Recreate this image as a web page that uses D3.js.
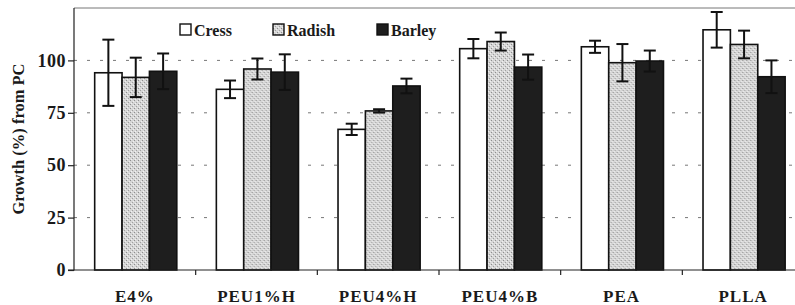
<!DOCTYPE html>
<html>
<head>
<meta charset="utf-8">
<script src="https://cdn.jsdelivr.net/npm/d3@7"></script>
<style>
  body { margin: 0; background: #fff; }
  text { font-family: "Liberation Serif", "DejaVu Serif", serif; font-weight: bold; fill: #1a1a1a; }
</style>
</head>
<body>
<script>
// data
const categories = ["E4%", "PEU1%H", "PEU4%H", "PEU4%B", "PEA", "PLLA"];
const seriesNames = ["Cress", "Radish", "Barley"];
const cressVals = [94.1, 86.2, 67.1, 105.6, 106.5, 114.6];
const radishVals = [91.9, 95.9, 75.9, 109.0, 98.9, 107.6];
const barleyVals = [94.8, 94.4, 87.8, 96.8, 99.7, 92.2];
const cressErr = [15.8, 4.2, 2.7, 4.6, 2.9, 8.5];
const radishErr = [9.4, 5.0, 0.8, 4.3, 8.9, 6.6];
const barleyErr = [8.5, 8.5, 3.5, 6.0, 5.0, 7.8];
const yTicks = [0, 25, 50, 75, 100];

const width = 795, height = 305;
const margin = {top: 8, left: 74, bottom: 35, right: -9};

const svg = d3.select("body").append("svg")
  .attr("width", width)
  .attr("height", height);

// stipple pattern for radish bars
const defs = svg.append("defs");
const pat = defs.append("pattern")
  .attr("id", "stipple")
  .attr("patternUnits", "userSpaceOnUse")
  .attr("width", 4).attr("height", 4);
pat.append("rect").attr("width", 4).attr("height", 4).attr("fill", "#d6d6d6");
pat.append("rect").attr("x", 0).attr("y", 0).attr("width", 1).attr("height", 1).attr("fill", "#8e8e8e");
pat.append("rect").attr("x", 2).attr("y", 2).attr("width", 1).attr("height", 1).attr("fill", "#a0a0a0");
pat.append("rect").attr("x", 1).attr("y", 3).attr("width", 1).attr("height", 1).attr("fill", "#f2f2f2");
pat.append("rect").attr("x", 3).attr("y", 1).attr("width", 1).attr("height", 1).attr("fill", "#f0f0f0");

const fills = {Cress: "#ffffff", Radish: "url(#stipple)", Barley: "#1e1e1e"};

const x = d3.scaleBand()
  .domain(categories)
  .range([margin.left, width - margin.right])
  .paddingInner(0).paddingOuter(0);

const xs = d3.scaleBand()
  .domain(seriesNames)
  .range([x.bandwidth() * 0.17, x.bandwidth() * 0.845])
  .padding(0);

const y = d3.scaleLinear()
  .domain([0, 125])
  .range([height - margin.bottom, margin.top]);

const rows = categories.map((c, i) => ({
  cat: c,
  vals: [
    {name: "Cress", v: cressVals[i], e: cressErr[i]},
    {name: "Radish", v: radishVals[i], e: radishErr[i]},
    {name: "Barley", v: barleyVals[i], e: barleyErr[i]}
  ]
}));

// frame
svg.append("line")
  .attr("x1", margin.left).attr("x2", width)
  .attr("y1", y(125)).attr("y2", y(125))
  .attr("stroke", "#777").attr("stroke-width", 1);

// dashed grid
svg.append("g").selectAll("line")
  .data(yTicks.filter(d => d > 0))
  .join("line")
  .attr("x1", margin.left).attr("x2", width)
  .attr("y1", d => y(d)).attr("y2", d => y(d))
  .attr("stroke", "#777")
  .attr("stroke-width", 1)
  .attr("stroke-dasharray", "3,10");

// bars
const groups = svg.append("g").selectAll("g")
  .data(rows)
  .join("g")
  .attr("transform", d => `translate(${x(d.cat)},0)`);

groups.selectAll("rect")
  .data(d => d.vals)
  .join("rect")
  .attr("x", d => xs(d.name))
  .attr("y", d => y(d.v))
  .attr("width", xs.bandwidth())
  .attr("height", d => y(0) - y(d.v))
  .attr("fill", d => fills[d.name])
  .attr("stroke", "#111")
  .attr("stroke-width", 1.6);

// error bars
const capW = 6;
const eb = groups.selectAll("g.err")
  .data(d => d.vals)
  .join("g")
  .attr("class", "err")
  .attr("transform", d => `translate(${xs(d.name) + xs.bandwidth() / 2},0)`);
eb.append("line")
  .attr("y1", d => y(d.v + d.e)).attr("y2", d => y(d.v - d.e))
  .attr("stroke", "#111").attr("stroke-width", 2);
eb.append("line")
  .attr("x1", -capW).attr("x2", capW)
  .attr("y1", d => y(d.v + d.e)).attr("y2", d => y(d.v + d.e))
  .attr("stroke", "#111").attr("stroke-width", 2);
eb.append("line")
  .attr("x1", -capW).attr("x2", capW)
  .attr("y1", d => y(d.v - d.e)).attr("y2", d => y(d.v - d.e))
  .attr("stroke", "#111").attr("stroke-width", 2);

// y axis
const yAxis = d3.axisLeft(y).tickValues(yTicks).tickSize(6).tickPadding(2);
const gy = svg.append("g")
  .attr("transform", `translate(${margin.left},0)`)
  .call(yAxis);
gy.select(".domain").attr("stroke", "#222").attr("stroke-width", 1.2).attr("d", `M-6,${y(0)}H0V${y(125)}`);
gy.selectAll(".tick line").attr("stroke", "#222").attr("stroke-width", 1.2);
gy.selectAll("text")
  .style("font-size", "18px")
  .style("font-family", "Liberation Serif")
  .style("font-weight", "bold")
  .style("letter-spacing", "0.5px")
  .attr("fill", "#1a1a1a");

// x axis with ticks at category boundaries
const gx = svg.append("g").attr("transform", `translate(0,${y(0)})`);
gx.append("line")
  .attr("x1", margin.left).attr("x2", width)
  .attr("stroke", "#222").attr("stroke-width", 1.2);
gx.selectAll("line.tk")
  .data(categories.slice(1))
  .join("line")
  .attr("class", "tk")
  .attr("x1", d => x(d)).attr("x2", d => x(d))
  .attr("y1", 0).attr("y2", 5)
  .attr("stroke", "#222").attr("stroke-width", 1.2);
gx.selectAll("text")
  .data(categories)
  .join("text")
  .attr("x", d => x(d) + x.bandwidth() / 2)
  .attr("y", 32)
  .attr("text-anchor", "middle")
  .style("font-size", "17px")
  .style("letter-spacing", "1px")
  .text(d => d);

// y title
svg.append("text")
  .attr("transform", `translate(24,${y(62.5)}) rotate(-90)`)
  .attr("text-anchor", "middle")
  .style("font-size", "16.5px")
  .text("Growth (%) from PC");

// legend
const legendX = [180, 273, 377];
const legend = svg.append("g").selectAll("g")
  .data(seriesNames)
  .join("g")
  .attr("transform", (d, i) => `translate(${legendX[i]},24)`);
legend.append("rect")
  .attr("width", 11).attr("height", 11)
  .attr("fill", d => fills[d])
  .attr("stroke", "#111").attr("stroke-width", 1.4);
legend.append("text")
  .attr("x", 14).attr("y", 11.5)
  .style("font-size", "16px")
  .text(d => d);
</script>
</body>
</html>
